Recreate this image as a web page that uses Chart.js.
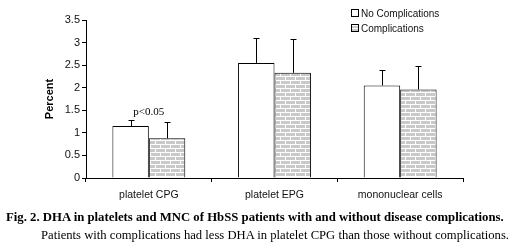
<!DOCTYPE html>
<html>
<head>
<meta charset="utf-8">
<script src="https://cdn.jsdelivr.net/npm/chart.js@4"></script>
<style>
  body { margin: 0; background: #fff; }
  #wrap { position: relative; width: 520px; height: 252px; overflow: hidden; }
  #chart { position: absolute; left: 0; top: 0; }
  .leg { position: absolute; font: 10px "Liberation Sans", Arial, sans-serif; color: #111; white-space: nowrap; }
  .leg span { display: inline-block; width: 6px; height: 6px; border: 1px solid #000; margin-right: 2px; }
  .cap { position: absolute; font-family: "Liberation Serif", "Times New Roman", serif; color: #000; white-space: nowrap; }
</style>
</head>
<body>
<div id="wrap">
  <canvas id="chart" width="520" height="252"></canvas>
  <div class="leg" style="left:351px; top:8px;"><span style="background:#fff"></span>No Complications</div>
  <div class="leg" style="left:351px; top:23px;"><span id="legPat" style="background:#ccc"></span>Complications</div>
  <div class="cap" style="left:6px; top:210px; font-size:12.75px; font-weight:bold;">Fig. 2. DHA in platelets and MNC of HbSS patients with and without disease complications.</div>
  <div class="cap" style="left:41px; top:228px; font-size:12.65px;">Patients with complications had less DHA in platelet CPG than those without complications.</div>
</div>
<script>
const categories = ['platelet CPG', 'platelet EPG', 'mononuclear cells'];
const noComplications = [1.15, 2.55, 2.05];
const noComplicationsErr = [0.13, 0.55, 0.35];
const complications = [0.88, 2.33, 1.96];
const complicationsErr = [0.37, 0.74, 0.52];
const yTicks = [0, 0.5, 1, 1.5, 2, 2.5, 3, 3.5];

// brick hatch
function brickPattern() {
    const c = document.createElement('canvas');
    c.width = 10;
    c.height = 8;
    const g = c.getContext('2d');
    g.fillStyle = '#c9c9c9';
    g.fillRect(0, 0, 10, 8);
    g.fillStyle = '#ffffff';
    g.fillRect(0, 0, 10, 1);
    g.fillRect(0, 4, 10, 1);
    g.fillRect(0, 0, 1, 4);
    g.fillRect(5, 4, 1, 4);
    return g.createPattern(c, 'repeat');
}
const pattern = brickPattern();

const errorBars = {
    id: 'errorBars',
    afterDatasetsDraw(chart) {
        const ctx = chart.ctx;
        const yScale = chart.scales.y;
        const errs = [noComplicationsErr, complicationsErr];
        ctx.save();
        ctx.strokeStyle = '#000';
        ctx.lineWidth = 1;
        chart.data.datasets.forEach((ds, i) => {
            chart.getDatasetMeta(i).data.forEach((bar, j) => {
                const x = Math.round(bar.x) + 0.5;
                const yTop = Math.round(yScale.getPixelForValue(ds.data[j] + errs[i][j])) + 0.5;
                ctx.beginPath();
                ctx.moveTo(x, bar.y);
                ctx.lineTo(x, yTop);
                ctx.moveTo(x - 3, yTop);
                ctx.lineTo(x + 3, yTop);
                ctx.stroke();
            });
        });
        // significance mark over first group
        const xs = chart.scales.x;
        ctx.fillStyle = '#000';
        ctx.font = '11px "Liberation Serif", "Times New Roman", serif';
        ctx.textAlign = 'center';
        ctx.textBaseline = 'middle';
        ctx.fillText('p<0.05', xs.getPixelForValue(0), yScale.getPixelForValue(1.47));
        ctx.restore();
    }
};

new Chart(document.getElementById('chart'), {
    type: 'bar',
    data: {
        labels: categories,
        datasets: [
            {
                label: 'No Complications',
                data: noComplications,
                backgroundColor: '#ffffff',
                borderColor: '#000000',
                borderWidth: 1,
            },
            {
                label: 'Complications',
                data: complications,
                backgroundColor: pattern,
                borderColor: '#000000',
                borderWidth: 1,
            },
        ],
    },
    options: {
        responsive: false,
        animation: false,
        events: [],
        layout: { padding: { top: 20, right: 57, bottom: 50, left: 0 } },
        datasets: { bar: { categoryPercentage: 0.58, barPercentage: 1.0 } },
        plugins: {
            legend: { display: false },
            tooltip: { enabled: false },
        },
        scales: {
            x: {
                grid: { drawOnChartArea: false, tickLength: 4, color: '#000' },
                border: { color: '#000', width: 1 },
                ticks: {
                    color: '#111',
                    padding: 7,
                    maxRotation: 0,
                    font: { family: '"Liberation Sans", Arial, sans-serif', size: 10.5 },
                },
                afterFit(scale) { scale.height = 24; },
            },
            y: {
                min: 0,
                max: 3.5,
                afterBuildTicks(scale) { scale.ticks = yTicks.map(v => ({ value: v })); },
                grid: { drawOnChartArea: false, tickLength: 4, color: '#000' },
                border: { color: '#000', width: 1 },
                ticks: {
                    color: '#111',
                    padding: 2,
                    callback: v => String(v),
                    font: { family: '"Liberation Sans", Arial, sans-serif', size: 11 },
                },
                title: {
                    display: true,
                    text: 'Percent',
                    color: '#000',
                    padding: { top: 43, bottom: 0 },
                    font: { family: '"Liberation Sans", Arial, sans-serif', size: 11, weight: 'bold' },
                },
                afterFit(scale) { scale.width = 86; },
            },
        },
    },
    plugins: [errorBars],
});
document.getElementById('legPat').style.background = 'repeating-linear-gradient(#fff 0 1px, #c9c9c9 1px 3px)';
</script>
</body>
</html>
